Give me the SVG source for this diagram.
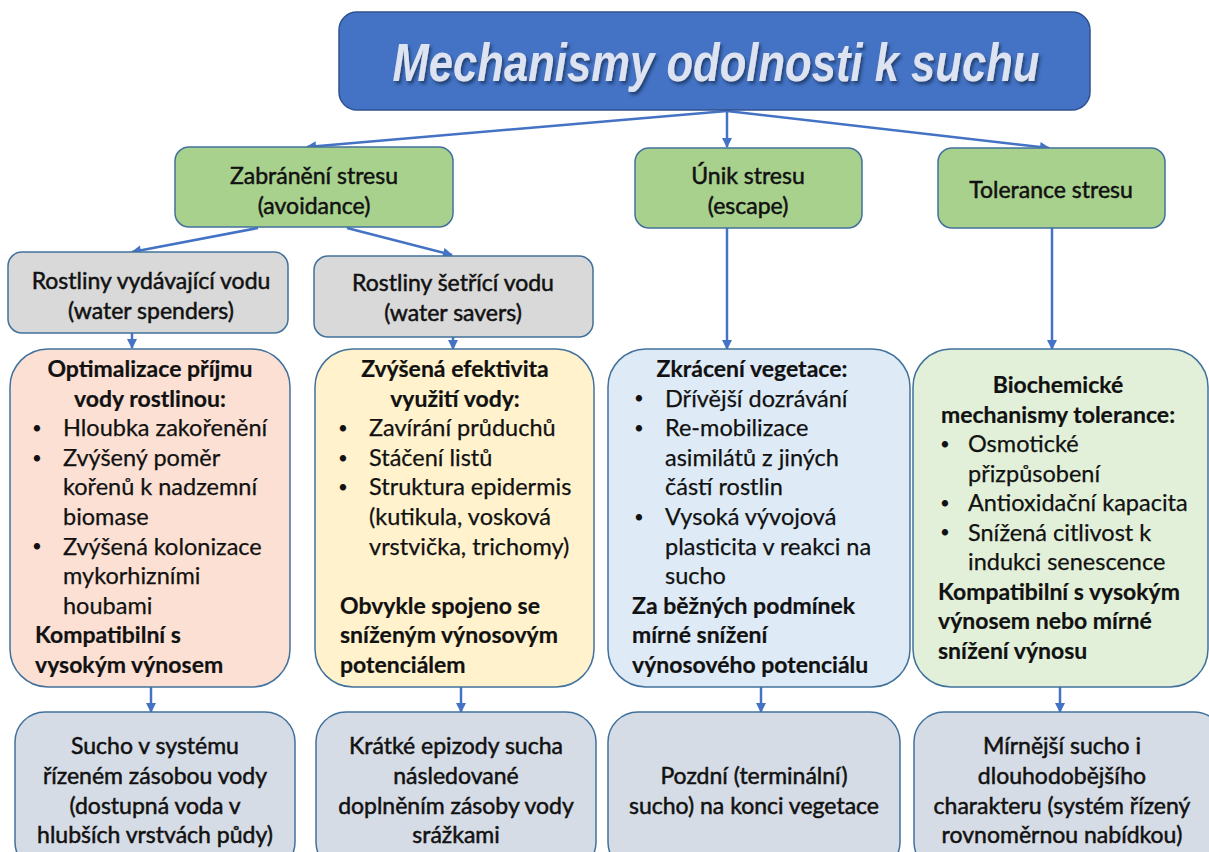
<svg xmlns="http://www.w3.org/2000/svg" width="1209" height="852" viewBox="0 0 1209 852">
<defs>
<marker id="ah" viewBox="0 0 10 10" refX="9" refY="5" markerWidth="11" markerHeight="10" markerUnits="userSpaceOnUse" orient="auto">
<path d="M0,0 L10,5 L0,10 z" fill="#4472C4"/>
</marker>
<filter id="sh" x="-5%" y="-20%" width="110%" height="150%">
<feDropShadow dx="2" dy="3" stdDeviation="1.5" flood-color="#1F3864" flood-opacity="0.8"/>
</filter>
</defs>
<style>
.box{stroke:#41719C;stroke-width:1.5}
.t{font-family:Lato,"Open Sans",sans-serif;font-size:23.5px;fill:#111;stroke:#111;stroke-width:0.25}
.c{text-anchor:middle}
.b{font-weight:bold;font-size:23px;stroke-width:0.2}
.d{font-family:Lato,"Open Sans",sans-serif;font-size:17px;fill:#111}
.h{font-family:Lato,"Open Sans",sans-serif;font-size:23px;fill:#111;stroke:#111;stroke-width:0.5;text-anchor:middle}
.cn{stroke:#4472C4;stroke-width:2.5;fill:none;marker-end:url(#ah)}
</style>
<rect width="1209" height="852" fill="#fff"/>

<g id="connectors">
<line class="cn" x1="727" y1="111" x2="307" y2="147"/>
<line class="cn" x1="727" y1="111" x2="727" y2="147"/>
<line class="cn" x1="727" y1="111" x2="1049" y2="148"/>
<line class="cn" x1="258" y1="228" x2="132" y2="252"/>
<line class="cn" x1="347" y1="228" x2="452" y2="255"/>
<line class="cn" x1="132" y1="333" x2="132" y2="348"/>
<line class="cn" x1="453" y1="337" x2="453" y2="349"/>
<line class="cn" x1="727" y1="228" x2="727" y2="349"/>
<line class="cn" x1="1052" y1="228" x2="1052" y2="349"/>
<line class="cn" x1="151" y1="687" x2="151" y2="712"/>
<line class="cn" x1="461" y1="687" x2="461" y2="712"/>
<line class="cn" x1="761" y1="687" x2="761" y2="712"/>
<line class="cn" x1="1060" y1="687" x2="1060" y2="712"/>
</g>

<g id="title">
<rect x="339" y="12" width="751" height="98" rx="18" fill="#4472C4" stroke="#2F528F" stroke-width="1.5"/>
<text x="716" y="81" text-anchor="middle" textLength="647" lengthAdjust="spacingAndGlyphs" font-family="'Liberation Sans',Arial,sans-serif" font-size="54" font-weight="bold" font-style="italic" fill="#DDE3F0" filter="url(#sh)">Mechanismy odolnosti k suchu</text>
</g>

<g id="avoidance">
<rect class="box" x="175" y="147" width="278" height="80" rx="14" fill="#A9D18E"/>
<text class="h" x="314" y="184">Zabránění stresu</text>
<text class="h" x="314" y="214">(avoidance)</text>
</g>
<g id="escape">
<rect class="box" x="635" y="148" width="227" height="80" rx="14" fill="#A9D18E"/>
<text class="h" x="748" y="184">Únik stresu</text>
<text class="h" x="748" y="214">(escape)</text>
</g>
<g id="tolerance">
<rect class="box" x="938" y="148" width="227" height="80" rx="14" fill="#A9D18E"/>
<text class="h" x="1051" y="198">Tolerance stresu</text>
</g>

<g id="spenders">
<rect class="box" x="8" y="252" width="280" height="81" rx="14" fill="#D9D9D9"/>
<text class="h" x="151" y="289">Rostliny vydávající vodu</text>
<text class="h" x="151" y="319">(water spenders)</text>
</g>
<g id="savers">
<rect class="box" x="314" y="256" width="279" height="81" rx="14" fill="#D9D9D9"/>
<text class="h" x="453" y="291">Rostliny šetřící vodu</text>
<text class="h" x="453" y="321">(water savers)</text>
</g>

<g id="box1">
<rect class="box" x="10" y="349" width="280" height="338" rx="38" fill="#FBE0D3"/>
<text class="t c b" x="150" y="377">Optimalizace příjmu</text>
<text class="t c b" x="150" y="406.6">vody rostlinou:</text>
<text class="d" x="32" y="434">•</text><text class="t" x="63" y="436.2">Hloubka zakořenění</text>
<text class="d" x="32" y="463.6">•</text><text class="t" x="63" y="465.8">Zvýšený poměr</text>
<text class="t" x="63" y="495.4">kořenů k nadzemní</text>
<text class="t" x="63" y="525">biomase</text>
<text class="d" x="32" y="552.4">•</text><text class="t" x="63" y="554.6">Zvýšená kolonizace</text>
<text class="t" x="63" y="584.2">mykorhizními</text>
<text class="t" x="63" y="613.8">houbami</text>
<text class="t b" x="35" y="643.4">Kompatibilní s</text>
<text class="t b" x="35" y="673">vysokým výnosem</text>
</g>

<g id="box2">
<rect class="box" x="315" y="349" width="279" height="338" rx="38" fill="#FFF2CC"/>
<text class="t c b" x="455" y="377">Zvýšená efektivita</text>
<text class="t c b" x="455" y="406.6">využití vody:</text>
<text class="d" x="338" y="434">•</text><text class="t" x="369" y="436.2">Zavírání průduchů</text>
<text class="d" x="338" y="463.6">•</text><text class="t" x="369" y="465.8">Stáčení listů</text>
<text class="d" x="338" y="493.2">•</text><text class="t" x="369" y="495.4">Struktura epidermis</text>
<text class="t" x="369" y="525">(kutikula, vosková</text>
<text class="t" x="369" y="554.6">vrstvička, trichomy)</text>
<text class="t b" x="340" y="613.8">Obvykle spojeno se</text>
<text class="t b" x="340" y="643.4">sníženým výnosovým</text>
<text class="t b" x="340" y="673">potenciálem</text>
</g>

<g id="box3">
<rect class="box" x="608" y="349" width="302" height="338" rx="38" fill="#DEEBF7"/>
<text class="t c b" x="752" y="377">Zkrácení vegetace:</text>
<text class="d" x="634" y="404.4">•</text><text class="t" x="665" y="406.6">Dřívější dozrávání</text>
<text class="d" x="634" y="434">•</text><text class="t" x="665" y="436.2">Re-mobilizace</text>
<text class="t" x="665" y="465.8">asimilátů z jiných</text>
<text class="t" x="665" y="495.4">částí rostlin</text>
<text class="d" x="634" y="522.8">•</text><text class="t" x="665" y="525">Vysoká vývojová</text>
<text class="t" x="665" y="554.6">plasticita v reakci na</text>
<text class="t" x="665" y="584.2">sucho</text>
<text class="t b" x="632" y="613.8">Za běžných podmínek</text>
<text class="t b" x="632" y="643.4">mírné snížení</text>
<text class="t b" x="632" y="673">výnosového potenciálu</text>
</g>

<g id="box4">
<rect class="box" x="913" y="349" width="295" height="338" rx="38" fill="#E2F0D9"/>
<text class="t c b" x="1058" y="393">Biochemické</text>
<text class="t c b" x="1058" y="422.5">mechanismy tolerance:</text>
<text class="d" x="940" y="449.8">•</text><text class="t" x="968" y="452">Osmotické</text>
<text class="t" x="968" y="481.5">přizpůsobení</text>
<text class="d" x="940" y="508.8">•</text><text class="t" x="968" y="511">Antioxidační kapacita</text>
<text class="d" x="940" y="538.3">•</text><text class="t" x="968" y="540.5">Snížená citlivost k</text>
<text class="t" x="968" y="570">indukci senescence</text>
<text class="t b" x="938" y="599.5">Kompatibilní s vysokým</text>
<text class="t b" x="938" y="629">výnosem nebo mírné</text>
<text class="t b" x="938" y="658.5">snížení výnosu</text>
</g>

<g id="bottom1">
<rect class="box" x="15" y="712" width="280" height="160" rx="30" fill="#D6DCE5"/>
<text class="h" x="155" y="754">Sucho v systému</text>
<text class="h" x="155" y="784">řízeném zásobou vody</text>
<text class="h" x="155" y="814">(dostupná voda v</text>
<text class="h" x="155" y="843">hlubších vrstvách půdy)</text>
</g>
<g id="bottom2">
<rect class="box" x="316" y="712" width="280" height="160" rx="30" fill="#D6DCE5"/>
<text class="h" x="456" y="754">Krátké epizody sucha</text>
<text class="h" x="456" y="784">následované</text>
<text class="h" x="456" y="814">doplněním zásoby vody</text>
<text class="h" x="456" y="843">srážkami</text>
</g>
<g id="bottom3">
<rect class="box" x="608" y="712" width="292" height="160" rx="30" fill="#D6DCE5"/>
<text class="h" x="754" y="784">Pozdní (terminální)</text>
<text class="h" x="754" y="814">sucho) na konci vegetace</text>
</g>
<g id="bottom4">
<rect class="box" x="914" y="712" width="310" height="160" rx="30" fill="#D6DCE5"/>
<text class="h" x="1062" y="754">Mírnější sucho i</text>
<text class="h" x="1062" y="784">dlouhodobějšího</text>
<text class="h" x="1062" y="814">charakteru (systém řízený</text>
<text class="h" x="1062" y="843">rovnoměrnou nabídkou)</text>
</g>
</svg>
